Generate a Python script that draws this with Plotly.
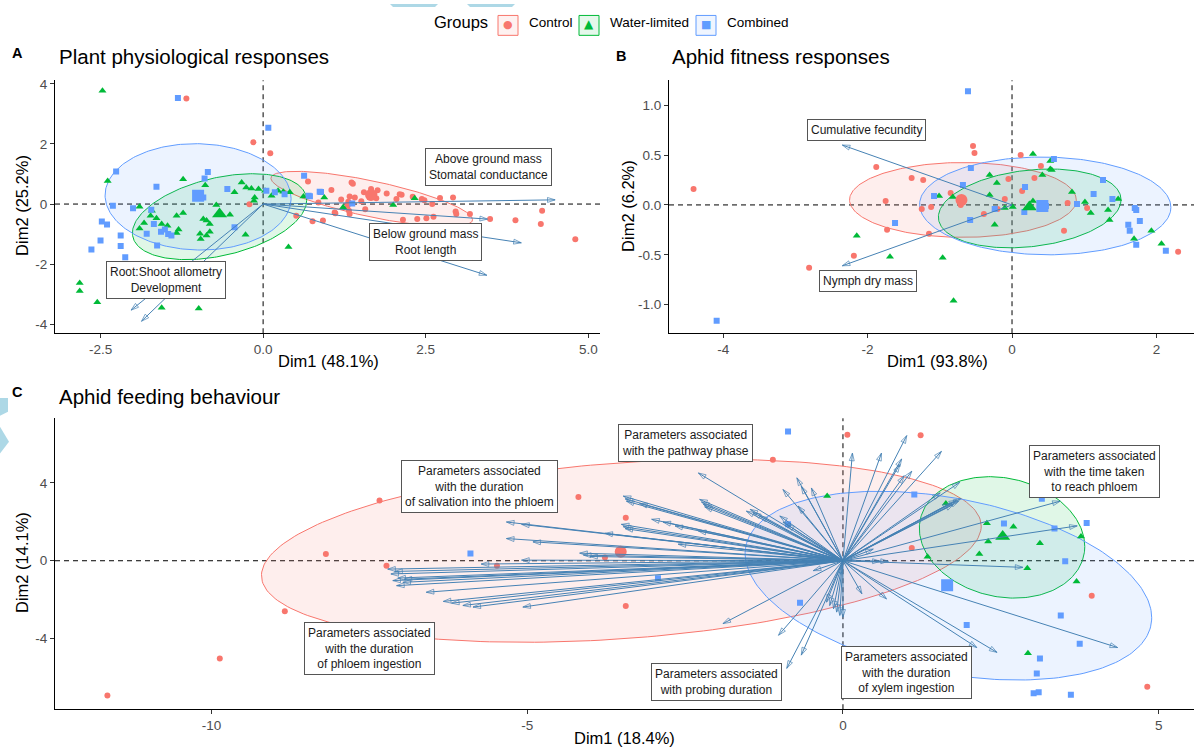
import numpy as np
import plotly.graph_objects as go

W, H = 1194, 752
RED, GREEN, BLUE = '#F8766D', '#00BA38', '#619CFF'
ARROW = '#4682B4'
FONT = 'Liberation Sans, Arial, sans-serif'

group_names = ['Control', 'Water-limited', 'Combined']

# ---------------- Panel A: Plant physiological responses ----------------
a_ctrl_x = [-1.18, -0.15, 0.11, -0.21, 0.69, 0.51, 0.76, 0.92, 1.36, 1.05, 1.55, 1.66, 1.76, 1.71, 1.64, 1.74, 1.33, 1.41, 1.31, 1.30,
            1.32, 1.33, 1.10, 1.51, 1.57, 2.05, 2.10, 2.13, 2.44, 2.60, 2.72, 2.92, 2.96, 2.97, 3.18, 2.15, 2.37, 2.51, 2.62, 3.49,
            3.88, 4.29, 4.27, 4.80, 1.38, 1.11, 2.30, 2.48, 0.85, 1.90, 1.20]
a_ctrl_y = [3.51, 2.06, 1.69, -0.01, 0.75, -0.39, -0.57, -0.55, 0.72, 0.47, 0.39, 0.50, 0.46, 0.33, 0.22, 0.19, 0.25, 0.22, 0.08, -0.06,
            -0.22, -0.33, -0.28, 0.09, -0.17, 0.17, 0.33, 0.31, 0.17, 0.00, 0.20, 0.22, -0.25, -0.33, -0.33, -0.52, -0.50, -0.47, -0.42, -0.50,
            -0.54, -0.22, -0.66, -1.17, 0.68, -0.31, 0.24, 0.13, 0.05, 0.35, 0.15]
a_wl_x = [-2.47, -2.39, -1.23, -0.89, -0.33, -0.44, -0.26, -0.18, -0.07, 0.03, -0.13, -0.14, 0.13, 0.23, 0.31, 0.41, 0.62, 0.94, -0.72, -0.51,
          -0.92, -0.87, -0.82, -1.23, -1.33, -1.71, -1.73, -1.64, -1.56, -1.47, -1.83, -1.90, -1.30, -1.33, -0.97, -0.96, -0.87, -0.82, -0.27, -1.90,
          0.39, -2.82, -2.82, -2.55, -1.56, -0.99, 1.23, 2.00, 2.33]
a_wl_y = [3.77, 0.77, 0.83, 0.63, 0.72, 0.39, 0.55, 0.52, 0.50, 0.44, 0.22, 0.11, 0.28, 0.44, 0.41, 0.39, 0.25, 0.22, -0.03, -0.36,
          -0.50, -0.55, -0.66, -0.30, -0.39, -0.22, -0.39, -0.47, -0.66, -0.72, -0.63, -0.81, -0.85, -0.96, -0.99, -1.16, -1.05, -0.92, -1.02, -0.09,
          -1.43, -2.63, -2.89, -3.27, -3.45, -3.48, -0.11, -0.03, 0.19]
a_cb_x = [-1.31, 0.08, -2.26, -0.85, -0.90, -1.64, -0.55, -0.92, -2.31, -2.00, -1.72, -2.48, -2.40, -1.68, -1.79, -1.57, -1.51, -1.46, -1.41, -2.19,
          -2.19, -2.50, -2.64, -2.12, -1.63, -0.44, 0.05, 0.18, 0.33, 0.63, 0.70, 0.87, 0.72, 0.89, 1.37]
a_cb_y = [3.53, 2.54, 1.08, 1.07, 0.85, 0.58, 0.50, 0.22, -0.06, -0.14, -0.19, -0.58, -0.68, -0.66, -0.99, -0.92, -0.85, -1.00, -1.05, -1.05,
          -1.40, -1.21, -1.51, -1.77, -1.38, -0.77, 0.44, 0.39, 0.33, 0.94, 0.28, 0.41, 0.26, 0.40, 0.02]
a_mean_x = [1.66, -0.67, -1.00]
a_mean_y = [0.30, -0.33, 0.28]
# ellipse parameters: centre x, centre y, sd x, sd y, correlation
a_ell = [(1.67, 0.17, 1.55, 0.92, -0.75), (-0.67, -0.42, 1.34, 1.43, 0.38), (-1.00, 0.24, 1.43, 1.77, -0.03)]
a_arrow_x = [4.49, 3.45, 3.97, 3.44, -2.03, -1.87]
a_arrow_y = [0.14, -0.50, -1.29, -2.37, -3.53, -3.90]
a_labels = ['Above ground mass<br>Stomatal conductance', 'Below ground mass<br>Root length', 'Root:Shoot allometry<br>Development']
a_label_x = [3.47, 2.49, -1.49]
a_label_y = [1.22, -1.26, -2.52]

# ---------------- Panel B: Aphid fitness responses ----------------
b_ctrl_x = [-4.41, -1.88, -1.39, -1.23, -1.75, -1.73, -2.19, -2.81, -1.25, -1.15, -0.54, -0.52, 0.12, 0.40, -0.05, 0.31, 0.14, -0.10, -0.20, -0.39,
            -0.85, -0.71, -1.12, 0.77, 1.04, 0.72, 2.30]
b_ctrl_y = [0.16, 0.38, 0.27, 0.25, 0.04, -0.25, -0.51, -0.63, -0.04, -0.29, 0.59, 0.52, 0.50, 0.39, 0.26, 0.27, 0.14, 0.06, -0.04, -0.09,
            0.12, 0.00, -0.02, 0.02, -0.03, -0.26, -0.47]
b_wl_x = [-2.15, -1.69, -0.96, -0.81, -1.01, -0.82, -0.31, -0.21, -0.31, -0.24, -0.10, 0.01, 0.29, 0.29, 0.53, 0.53, 0.55, 0.42, 0.83, 1.01,
          1.09, 1.33, 1.35, 1.47, 1.69, 1.93, 2.07]
b_wl_y = [-0.31, -0.52, -0.53, -0.96, 0.09, 0.08, 0.30, 0.22, 0.10, -0.20, -0.03, -0.02, 0.04, 0.51, 0.44, 0.36, 0.35, 0.30, 0.13, 0.03,
          -0.08, -0.05, -0.15, 0.06, -0.34, -0.26, -0.39]
b_cb_x = [-4.09, -1.62, -0.61, -0.57, -0.68, -1.08, -0.58, -0.24, 0.17, 0.18, 0.58, 0.47, 0.90, 1.13, 1.26, 1.39, 1.70, 1.72, 1.77, 1.61,
          1.63, 1.72, 2.13]
b_cb_y = [-1.16, -0.18, 1.14, 0.37, 0.20, 0.09, -0.15, -0.04, -0.07, 0.18, 0.46, -0.01, 0.01, 0.11, 0.25, 0.06, -0.03, -0.05, -0.16, -0.20,
          -0.26, -0.40, -0.46]
b_mean_x = [-0.70, 0.24, 0.42]
b_mean_y = [0.05, -0.02, -0.01]
b_ell = [(-0.68, 0.05, 1.57, 0.375, 0.0), (0.245, -0.035, 1.265, 0.395, 0.22), (0.46, -0.01, 1.74, 0.49, -0.03)]
b_arrow_x = [-2.35, -2.35]
b_arrow_y = [0.60, -0.61]
b_labels = ['Cumulative fecundity', 'Nymph dry mass']
b_label_x = [-2.01, -2.00]
b_label_y = [0.75, -0.76]

# ---------------- Panel C: Aphid feeding behaviour ----------------
c_ctrl_x = [-11.65, -9.87, -8.84, -8.19, -7.34, -7.23, -5.48, -4.19, -3.44, -3.77, -3.44, -1.11, 0.07, 1.23, 1.09, 3.94, 4.82]
c_ctrl_y = [-6.93, -5.02, -2.59, 0.34, 3.10, -0.26, -0.26, 3.27, 2.21, 0.17, -2.33, 5.19, 6.47, 6.45, 0.65, -1.80, -6.47]
c_wl_x = [-0.25, 2.28, 2.70, 2.30, 3.12, 2.16, 1.34, 2.92, 3.70, 3.77, 2.93, 1.63]
c_wl_y = [3.32, 1.92, 1.75, 0.99, 0.90, 0.34, 0.20, -0.39, -1.07, 1.24, -4.75, 2.94]
c_cb_x = [-5.90, -2.93, -0.87, -0.68, -0.87, 1.13, 3.15, 2.55, 3.86, 3.35, 3.52, 3.45, 1.96, 3.75, 3.12, 3.07, 3.02, 3.10, 3.61]
c_cb_y = [0.37, -0.90, 6.64, -2.16, 1.87, 3.40, 3.18, 1.91, 1.94, 1.65, -0.03, -2.81, -3.30, -4.26, -5.02, -5.79, -6.81, -6.76, -6.89]
c_mean_x = [-3.52, 2.53, 1.65]
c_mean_y = [0.46, 1.24, -1.26]
c_ell = [(-3.51, 0.51, 5.70, 4.70, 0.27), (2.52, 1.20, 1.31, 3.12, -0.15), (1.67, -1.28, 3.22, 4.85, -0.34)]
c_arrow_x = [-3.48, -3.45, -3.43, -3.22, -2.29, -2.27, -2.24, -2.21, -2.19, -1.53, -1.47, -1.42, -1.32,
             -3.03, -2.85, -2.66, -2.29, -3.51, -3.48, -3.45, -5.33, -5.09, -3.77, -5.33, -4.91, -2.61,
             -4.17, -4.11, -4.01, -5.09, -5.73, -1.00, -0.95, -0.89, -0.73, -0.66, -0.50, -0.95, -0.71,
             -7.21, -7.16, -7.05, -7.13, -7.07, -6.97, -6.60, -6.33, -6.20, -6.02, -5.86, -5.07, -0.47, -7.10, -6.95,
             -1.90, -1.02, -0.89, -0.66, -0.26, -0.21, -0.10, -0.05, -0.15, 0.00,
             0.15, 0.61, 1.01, 0.93, 0.90, 1.09, 0.97, 1.56, 1.85, 1.87, 1.83, 1.75, 1.54, 1.80, 1.70,
             3.44, 3.71, 2.85, 0.72, 0.59, 0.48, 0.30, 0.69, 2.12, 2.44, 4.35]
c_arrow_y = [3.32, 3.18, 3.06, 2.94, 4.51, 3.15, 3.01, 2.89, 2.77, 2.55, 2.64, 2.47, 2.30,
             2.13, 1.99, 1.79, 1.53, 1.87, 1.75, 1.65, 1.99, 1.87, 1.41, 1.14, 0.97, 0.85,
             0.39, 0.29, 0.22, 0.03, -0.17, 2.30, 1.99, 1.87, 4.26, 3.83, 3.74, 3.66, 2.81,
             -0.43, -0.68, -0.89, -1.02, -1.28, -1.11, -1.62, -2.09, -2.18, -2.30, -2.38, -2.38, -0.51, -0.55, -0.95,
             -3.23, -3.83, -5.53, -4.85, -2.13, -2.30, -2.64, -2.81, -2.47, -2.90,
             5.53, 5.53, 6.43, 5.23, 4.94, 4.60, 4.37, 5.62, 4.03, 3.20, 3.06, 2.89, 3.49, 3.12, 2.95,
             3.06, 1.79, -0.34, -0.03, -0.03, 0.60, -1.70, -1.96, -4.46, -4.71, -4.46]
c_labels = ['Parameters associated<br>with the pathway phase',
            'Parameters associated<br>with the duration<br>of salivation into the phloem',
            'Parameters associated<br>with the duration<br>of phloem ingestion',
            'Parameters associated<br>with probing duration',
            'Parameters associated<br>with the duration<br>of xylem ingestion',
            'Parameters associated<br>with the time taken<br>to reach phloem']
c_label_x = [-2.50, -5.75, -7.50, -2.01, 1.01, 3.99]
c_label_y = [6.03, 3.79, -4.49, -6.22, -5.73, 4.61]

# ---------------- Axis ticks / titles ----------------
a_xticks, a_xtext = [-2.5, 0.0, 2.5, 5.0], ['-2.5', '0.0', '2.5', '5.0']
a_yticks, a_ytext = [-4, -2, 0, 2, 4], ['-4', '-2', '0', '2', '4']
b_xticks, b_xtext = [-4, -2, 0, 2], ['-4', '-2', '0', '2']
b_yticks, b_ytext = [-1.0, -0.5, 0.0, 0.5, 1.0], ['-1.0', '-0.5', '0.0', '0.5', '1.0']
c_xticks, c_xtext = [-10, -5, 0, 5], ['-10', '-5', '0', '5']
c_yticks, c_ytext = [-4, 0, 4], ['-4', '0', '4']

colors = [RED, GREEN, BLUE]
fills = ['rgba(248,118,109,0.12)', 'rgba(0,186,56,0.12)', 'rgba(97,156,255,0.12)']
symbols = ['circle', 'triangle-up', 'square']
glyphs = ['\u25CF', '\u25B2', '\u25A0']
sizes = [6, 7, 6]
TXT_SHIFT = 3  # px: lift paper-anchored texts slightly


def px(x):
    return x / W


def py(y):
    return 1 - y / H


def ellipse(cx, cy, sx, sy, r, n=240):
    t = np.linspace(0, 2 * np.pi, n)
    ex = cx + sx * np.cos(t)
    ey = cy + sy * (r * np.cos(t) + np.sqrt(1 - r * r) * np.sin(t))
    return ex, ey


def arrow_trace(xe, ye, xa, ya):
    xs, ys, sz, sym = [], [], [], []
    for x, y in zip(xe, ye):
        xs += [0, x, None]
        ys += [0, y, None]
        sz += [0, 8, 0]
        sym += ['circle', 'arrow-open', 'circle']
    return go.Scatter(x=xs, y=ys, xaxis=xa, yaxis=ya, mode='lines+markers', hoverinfo='skip', showlegend=False,
                      line=dict(color=ARROW, width=1),
                      marker=dict(size=sz, symbol=sym, angleref='previous', color=ARROW,
                                  line=dict(color=ARROW, width=1)))


fig = go.Figure()

panels = [
    ('x', 'y', a_ell, [(a_ctrl_x, a_ctrl_y), (a_wl_x, a_wl_y), (a_cb_x, a_cb_y)], a_mean_x, a_mean_y, a_arrow_x, a_arrow_y),
    ('x2', 'y2', b_ell, [(b_ctrl_x, b_ctrl_y), (b_wl_x, b_wl_y), (b_cb_x, b_cb_y)], b_mean_x, b_mean_y, b_arrow_x, b_arrow_y),
    ('x3', 'y3', c_ell, [(c_ctrl_x, c_ctrl_y), (c_wl_x, c_wl_y), (c_cb_x, c_cb_y)], c_mean_x, c_mean_y, c_arrow_x, c_arrow_y),
]

for xa, ya, ells, pts, mx, my, arx, ary in panels:
    for i, e in enumerate(ells):
        ex, ey = ellipse(*e)
        fig.add_trace(go.Scatter(x=ex, y=ey, xaxis=xa, yaxis=ya, mode='lines', fill='toself', fillcolor=fills[i],
                                 line=dict(color=colors[i], width=1), hoverinfo='skip', showlegend=False))
    for i, (gx, gy) in enumerate(pts):
        fig.add_trace(go.Scatter(x=gx, y=gy, xaxis=xa, yaxis=ya, mode='markers', name=group_names[i],
                                 legendgroup=group_names[i], showlegend=False,
                                 marker=dict(color=colors[i], symbol=symbols[i], size=sizes[i], line=dict(width=0))))
    for i in range(3):
        fig.add_trace(go.Scatter(x=[mx[i]], y=[my[i]], xaxis=xa, yaxis=ya, mode='markers', showlegend=False,
                                 legendgroup=group_names[i],
                                 marker=dict(color=colors[i], symbol=symbols[i], size=sizes[i] + 6, line=dict(width=0))))
    fig.add_trace(arrow_trace(arx, ary, xa, ya))

annotations = []
label_sets = [('x', 'y', a_labels, a_label_x, a_label_y), ('x2', 'y2', b_labels, b_label_x, b_label_y),
              ('x3', 'y3', c_labels, c_label_x, c_label_y)]
for xa, ya, texts, lx, ly in label_sets:
    for t, x, y in zip(texts, lx, ly):
        annotations.append(dict(text=t, x=x, y=y, xref=xa, yref=ya, showarrow=False, xanchor='center', yanchor='middle',
                                font=dict(size=12, color='#1a1a1a', family=FONT), bgcolor='white',
                                bordercolor='#555555', borderwidth=1, borderpad=3, align='center'))

# panel letters and titles
for letter, lx, ly, title, tx, ty in [('A', 17, 52, 'Plant physiological responses', 57, 56),
                                      ('B', 621, 55, 'Aphid fitness responses', 670, 56),
                                      ('C', 17, 393, 'Aphid feeding behaviour', 57, 398)]:
    annotations.append(dict(text='<b>%s</b>' % letter, x=px(lx), y=py(ly - TXT_SHIFT), xref='paper', yref='paper',
                            showarrow=False, xanchor='center', yanchor='middle',
                            font=dict(size=14.5, color='black', family=FONT)))
    annotations.append(dict(text=title, x=px(tx), y=py(ty - TXT_SHIFT), xref='paper', yref='paper', showarrow=False,
                            xanchor='left', yanchor='middle', font=dict(size=20.5, color='black', family=FONT)))

# axis titles
for text, x, y, ang in [('Dim1 (48.1%)', 328, 362, 0), ('Dim2 (25.2%)', 22, 203, -90),
                        ('Dim1 (93.8%)', 937, 362, 0), ('Dim2 (6.2%)', 628, 203, -90),
                        ('Dim1 (18.4%)', 624, 741, 0), ('Dim2 (14.1%)', 22, 562, -90)]:
    dy = TXT_SHIFT if ang == 0 else 0
    annotations.append(dict(text=text, x=px(x), y=py(y - dy), xref='paper', yref='paper', showarrow=False,
                            xanchor='center', yanchor='middle', textangle=ang,
                            font=dict(size=16.5, color='black', family=FONT)))

shapes = []
for xa, ya in [('x', 'y'), ('x2', 'y2'), ('x3', 'y3')]:
    shapes.append(dict(type='line', xref=xa, yref=ya + ' domain', x0=0, x1=0, y0=0, y1=1, layer='below',
                       line=dict(color='black', width=1, dash='5px,4px')))
    shapes.append(dict(type='line', xref=xa + ' domain', yref=ya, x0=0, x1=1, y0=0, y1=0, layer='below',
                       line=dict(color='black', width=1, dash='5px,4px')))

# legend drawn by hand (ggplot-style boxed keys)
annotations.append(dict(text='Groups', x=px(432), y=py(21.5 - TXT_SHIFT), xref='paper', yref='paper', showarrow=False,
                        xanchor='left', yanchor='middle', font=dict(size=16.5, color='black', family=FONT)))
key_left = [498, 579, 696]
text_left = [527, 608, 725]
glyph_size = [11, 12, 11]
for i in range(3):
    shapes.append(dict(type='rect', xref='paper', yref='paper', x0=px(key_left[i]), x1=px(key_left[i] + 20),
                       y0=py(31.5), y1=py(11.5), fillcolor=fills[i].replace('0.12', '0.10'),
                       line=dict(color=colors[i], width=1)))
    annotations.append(dict(text=glyphs[i], x=px(key_left[i] + 10), y=py(21.5 - 1), xref='paper', yref='paper',
                            showarrow=False, xanchor='center', yanchor='middle',
                            font=dict(size=glyph_size[i], color=colors[i], family='DejaVu Sans')))
    annotations.append(dict(text=group_names[i], x=px(text_left[i]), y=py(21.5 - TXT_SHIFT), xref='paper',
                            yref='paper', showarrow=False, xanchor='left', yanchor='middle',
                            font=dict(size=13.5, color='black', family=FONT)))

# light-blue decorative fragments at the picture edges
deco = [[(390, 0), (438, 0), (435, 3), (393, 3)], [(467, 0), (515, 0), (512, 3), (470, 3)],
        [(0, 396), (8, 396), (8, 410), (0, 414)], [(0, 425), (9, 440), (0, 452)]]
for poly in deco:
    path = 'M ' + ' L '.join('%.5f,%.5f' % (px(a), py(b)) for a, b in poly) + ' Z'
    shapes.append(dict(type='path', xref='paper', yref='paper', path=path, fillcolor='#ADD8E6',
                       line=dict(width=0), layer='above'))

axis_common = dict(showline=True, linecolor='black', linewidth=1, ticks='outside', ticklen=4, tickcolor='#333333',
                   tickfont=dict(size=13.5, color='#4D4D4D', family=FONT), showgrid=False, zeroline=False)

fig.update_layout(
    width=W, height=H, autosize=False,
    margin=dict(l=0, r=0, t=0, b=0),
    paper_bgcolor='white', plot_bgcolor='white',
    font=dict(family=FONT),
    showlegend=False,
    xaxis=dict(domain=[px(55), px(600)], range=[-3.20, 5.18], anchor='y', tickvals=a_xticks, ticktext=a_xtext, **axis_common),
    yaxis=dict(domain=[py(331), py(76.7)], range=[-4.30, 4.12], anchor='x', tickvals=a_yticks, ticktext=a_ytext, **axis_common),
    xaxis2=dict(domain=[px(669), 1.0], range=[-4.75, 2.52], anchor='y2', tickvals=b_xticks, ticktext=b_xtext, **axis_common),
    yaxis2=dict(domain=[py(331), py(76.7)], range=[-1.286, 1.249], anchor='x2', tickvals=b_yticks, ticktext=b_ytext, **axis_common),
    xaxis3=dict(domain=[px(55), 1.0], range=[-12.48, 5.56], anchor='y3', tickvals=c_xticks, ticktext=c_xtext, **axis_common),
    yaxis3=dict(domain=[py(709), py(416.5)], range=[-7.63, 7.32], anchor='x3', tickvals=c_yticks, ticktext=c_ytext, **axis_common),
    annotations=annotations,
    shapes=shapes,
)

fig.write_html('out.html', config={'displayModeBar': False},
               post_script="document.body.style.margin='0px';document.body.style.overflow='hidden';")
